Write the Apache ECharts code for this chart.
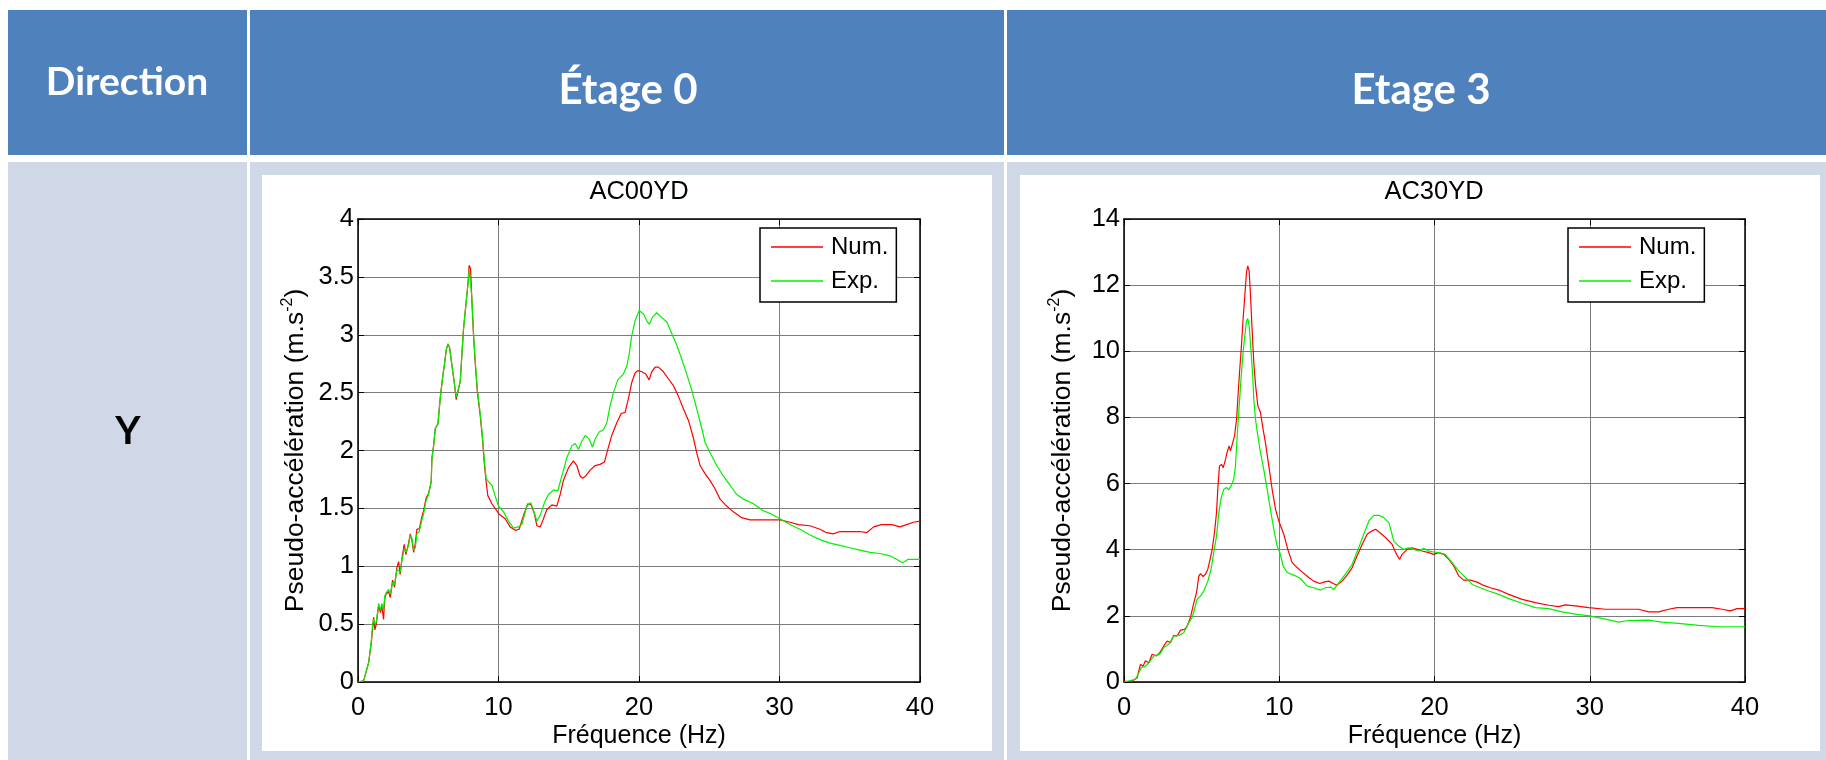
<!DOCTYPE html>
<html>
<head>
<meta charset="utf-8">
<title>AC00YD / AC30YD</title>
<script src="https://cdn.jsdelivr.net/npm/echarts@6.0.0/dist/echarts.min.js"></script>
<style>
  html, body { margin: 0; padding: 0; background: #fff; }
  #chart { width: 1826px; height: 760px; }
</style>
</head>
<body>
<div id="chart"></div>
<script>
// header texts of the table
const headerLabels = ['Direction', 'Étage 0', 'Etage 3'];
const rowLabel = 'Y';
const chartTitles = ['AC00YD', 'AC30YD'];
const seriesNames = ['Num.', 'Exp.'];

// ticks
const xTicks = { min: 0, max: 40, interval: 10 };
const yTicksLeft = { min: 0, max: 4, interval: 0.5 };
const yTicksRight = { min: 0, max: 14, interval: 2 };

// Étage 0 - [fréquence Hz, pseudo-accélération]
const ac00Num = [[0,0],[0.4,0.01],[0.76,0.17],[0.95,0.34],[1.04,0.46],[1.11,0.56],[1.2,0.45],[1.3,0.5],[1.47,0.66],[1.6,0.6],[1.7,0.66],[1.82,0.54],[1.9,0.72],[2.0,0.76],[2.18,0.78],[2.3,0.73],[2.46,0.88],[2.6,0.82],[2.77,0.99],[2.89,1.04],[3.0,0.93],[3.13,1.07],[3.29,1.19],[3.41,1.1],[3.6,1.2],[3.72,1.28],[3.84,1.22],[3.96,1.12],[4.08,1.2],[4.19,1.32],[4.36,1.32],[4.55,1.43],[4.67,1.48],[4.83,1.58],[5.02,1.63],[5.21,1.73],[5.26,1.93],[5.38,2.04],[5.5,2.19],[5.69,2.23],[5.85,2.45],[6.02,2.63],[6.16,2.75],[6.28,2.87],[6.4,2.92],[6.52,2.89],[6.68,2.74],[6.85,2.59],[6.99,2.44],[7.11,2.44],[7.28,2.6],[7.39,2.82],[7.51,3.05],[7.68,3.26],[7.82,3.43],[7.91,3.6],[8.01,3.57],[8.1,3.31],[8.22,3.0],[8.34,2.76],[8.5,2.5],[8.7,2.3],[8.86,2.1],[9.0,1.87],[9.12,1.73],[9.24,1.61],[9.53,1.54],[9.76,1.5],[10.05,1.45],[10.48,1.41],[10.83,1.34],[11.19,1.31],[11.47,1.32],[11.78,1.44],[12.09,1.54],[12.33,1.53],[12.56,1.45],[12.73,1.35],[12.97,1.34],[13.2,1.41],[13.44,1.49],[13.8,1.53],[14.15,1.52],[14.39,1.62],[14.62,1.74],[14.98,1.85],[15.33,1.91],[15.57,1.87],[15.81,1.78],[15.98,1.76],[16.21,1.78],[16.52,1.83],[16.88,1.87],[17.23,1.88],[17.54,1.9],[17.78,2.01],[18.06,2.13],[18.42,2.24],[18.73,2.32],[19.01,2.33],[19.25,2.45],[19.49,2.59],[19.72,2.67],[19.92,2.69],[20.2,2.68],[20.48,2.66],[20.72,2.61],[20.91,2.68],[21.14,2.72],[21.38,2.72],[21.74,2.68],[22.09,2.62],[22.45,2.56],[22.8,2.47],[23.16,2.36],[23.52,2.26],[23.87,2.11],[24.11,1.98],[24.35,1.87],[24.7,1.8],[25.06,1.74],[25.41,1.67],[25.77,1.58],[26.24,1.52],[26.72,1.47],[27.31,1.42],[27.9,1.4],[28.6,1.4],[29.33,1.4],[30.03,1.4],[30.75,1.38],[31.34,1.36],[32.17,1.35],[32.88,1.32],[33.35,1.29],[33.83,1.28],[34.3,1.3],[35.0,1.3],[35.7,1.3],[36.2,1.29],[36.7,1.34],[37.26,1.36],[37.98,1.36],[38.57,1.34],[39.05,1.36],[39.52,1.38],[40,1.39]];
const ac00Exp = [[0,0],[0.4,0.01],[0.76,0.17],[0.95,0.36],[1.04,0.5],[1.11,0.54],[1.2,0.5],[1.3,0.52],[1.47,0.68],[1.6,0.62],[1.7,0.68],[1.82,0.62],[1.9,0.74],[2.0,0.77],[2.18,0.8],[2.3,0.76],[2.46,0.86],[2.6,0.84],[2.77,0.97],[2.89,0.98],[3.0,0.95],[3.13,1.05],[3.29,1.15],[3.41,1.12],[3.6,1.18],[3.72,1.27],[3.84,1.24],[3.96,1.14],[4.08,1.16],[4.19,1.28],[4.36,1.3],[4.55,1.4],[4.67,1.45],[4.83,1.56],[5.02,1.62],[5.21,1.73],[5.26,1.93],[5.38,2.04],[5.5,2.19],[5.69,2.23],[5.85,2.45],[6.02,2.63],[6.16,2.75],[6.28,2.87],[6.4,2.92],[6.52,2.89],[6.68,2.74],[6.85,2.59],[6.99,2.46],[7.11,2.46],[7.28,2.6],[7.39,2.82],[7.51,3.05],[7.68,3.26],[7.82,3.43],[7.91,3.56],[8.01,3.55],[8.1,3.33],[8.22,3.02],[8.34,2.78],[8.5,2.52],[8.7,2.32],[8.86,2.12],[9.0,1.9],[9.12,1.76],[9.29,1.73],[9.53,1.7],[9.76,1.61],[10.0,1.52],[10.36,1.47],[10.71,1.39],[11.07,1.33],[11.42,1.34],[11.66,1.36],[12.02,1.52],[12.3,1.55],[12.56,1.46],[12.73,1.39],[12.97,1.44],[13.27,1.55],[13.56,1.62],[13.92,1.66],[14.22,1.65],[14.51,1.78],[14.87,1.94],[15.22,2.04],[15.46,2.06],[15.7,2.01],[15.93,2.08],[16.17,2.13],[16.45,2.1],[16.69,2.03],[16.88,2.1],[17.16,2.16],[17.47,2.18],[17.71,2.24],[17.95,2.39],[18.18,2.5],[18.49,2.61],[18.89,2.66],[19.13,2.73],[19.3,2.83],[19.48,2.99],[19.72,3.12],[20.01,3.21],[20.32,3.18],[20.55,3.12],[20.74,3.09],[20.95,3.15],[21.26,3.19],[21.62,3.15],[21.98,3.11],[22.33,3.01],[22.69,2.91],[23.04,2.79],[23.4,2.66],[23.76,2.52],[24.11,2.36],[24.47,2.19],[24.7,2.07],[25.06,1.98],[25.53,1.87],[26.0,1.78],[26.48,1.7],[26.95,1.62],[27.43,1.58],[28.14,1.54],[28.85,1.48],[29.44,1.45],[30.03,1.41],[30.75,1.36],[31.46,1.32],[32.17,1.27],[32.88,1.23],[33.59,1.2],[34.3,1.18],[35.0,1.16],[35.73,1.14],[36.44,1.12],[37.15,1.11],[37.86,1.09],[38.33,1.06],[38.76,1.03],[39.16,1.06],[40,1.06]];

// Etage 3
const ac30Num = [[0,0.03],[0.42,0],[0.85,0.13],[1.06,0.53],[1.23,0.48],[1.38,0.64],[1.6,0.58],[1.81,0.84],[2.09,0.79],[2.31,0.89],[2.56,1.09],[2.78,1.24],[2.99,1.19],[3.21,1.41],[3.42,1.39],[3.64,1.57],[3.9,1.59],[4.07,1.69],[4.28,1.95],[4.45,2.3],[4.67,2.7],[4.82,3.21],[4.93,3.28],[5.1,3.19],[5.25,3.26],[5.4,3.41],[5.57,3.76],[5.68,4.01],[5.83,4.52],[5.96,5.12],[6.04,5.83],[6.15,6.53],[6.28,6.58],[6.39,6.48],[6.54,6.73],[6.64,6.94],[6.77,7.14],[6.86,6.99],[6.97,6.94],[7.12,7.44],[7.25,7.94],[7.33,8.55],[7.44,9.35],[7.55,10.06],[7.67,10.97],[7.78,11.67],[7.89,12.38],[7.97,12.58],[8.06,12.43],[8.14,11.77],[8.25,10.67],[8.36,9.66],[8.47,9.0],[8.62,8.35],[8.79,8.15],[8.96,7.64],[9.11,7.24],[9.33,6.53],[9.54,5.83],[9.76,5.22],[9.97,4.87],[10.29,4.47],[10.55,4.01],[10.83,3.61],[11.15,3.46],[11.47,3.33],[11.9,3.16],[12.22,3.05],[12.61,2.98],[12.87,3.02],[13.19,3.05],[13.47,2.98],[13.72,2.93],[14.05,3.05],[14.37,3.23],[14.7,3.46],[15.01,3.81],[15.34,4.16],[15.66,4.47],[15.98,4.57],[16.2,4.62],[16.47,4.52],[16.84,4.37],[17.27,4.16],[17.55,3.86],[17.76,3.71],[17.91,3.86],[18.24,4.01],[18.56,4.06],[18.88,4.01],[19.2,3.96],[19.63,3.91],[19.95,3.86],[20.27,3.91],[20.59,3.86],[20.92,3.71],[21.24,3.51],[21.56,3.21],[21.88,3.08],[22.31,3.08],[22.74,3.02],[23.17,2.92],[23.6,2.85],[24.14,2.78],[24.78,2.65],[25.64,2.5],[26.5,2.4],[27.36,2.32],[28.0,2.28],[28.43,2.33],[29.08,2.3],[29.93,2.25],[31.0,2.2],[32.07,2.2],[33.15,2.2],[33.79,2.12],[34.44,2.12],[35.08,2.2],[35.62,2.25],[36.8,2.25],[37.88,2.25],[38.52,2.2],[39.05,2.15],[39.48,2.22],[40,2.22]];
const ac30Exp = [[0,0],[0.74,0.08],[0.96,0.28],[1.11,0.43],[1.38,0.48],[1.6,0.58],[1.92,0.79],[2.31,0.84],[2.56,1.04],[2.89,1.14],[3.21,1.39],[3.53,1.41],[3.85,1.49],[4.17,1.79],[4.39,1.95],[4.54,2.2],[4.71,2.5],[4.93,2.6],[5.14,2.75],[5.4,3.05],[5.61,3.41],[5.78,3.91],[5.96,4.42],[6.11,5.12],[6.26,5.57],[6.43,5.83],[6.6,5.88],[6.75,5.81],[6.9,5.93],[7.07,6.13],[7.18,6.53],[7.29,7.44],[7.42,8.35],[7.55,9.25],[7.67,9.96],[7.78,10.46],[7.89,10.92],[7.97,10.99],[8.06,10.77],[8.19,9.96],[8.3,9.15],[8.36,8.55],[8.47,7.94],[8.62,7.44],[8.79,6.94],[9.0,6.43],[9.22,5.83],[9.43,5.22],[9.65,4.62],[9.86,4.11],[10.04,3.91],[10.25,3.51],[10.51,3.31],[11.04,3.21],[11.36,3.13],[11.8,2.9],[12.22,2.85],[12.65,2.78],[12.97,2.85],[13.3,2.87],[13.52,2.8],[13.83,3.0],[14.26,3.26],[14.7,3.56],[15.12,4.06],[15.44,4.47],[15.77,4.87],[16.09,5.04],[16.41,5.04],[16.73,4.97],[17.06,4.82],[17.38,4.26],[17.7,4.11],[18.02,4.01],[18.34,4.06],[18.66,4.01],[18.99,3.96],[19.31,4.04],[19.63,3.96],[19.95,3.93],[20.27,3.91],[20.7,3.86],[21.13,3.61],[21.56,3.36],[21.99,3.16],[22.42,2.95],[22.95,2.85],[23.49,2.75],[24.14,2.65],[24.78,2.52],[25.64,2.38],[26.5,2.25],[27.36,2.22],[28.22,2.12],[29.08,2.05],[30.0,2.0],[31.0,1.9],[31.86,1.81],[32.5,1.86],[33.79,1.87],[34.65,1.81],[35.72,1.77],[37.01,1.71],[38.3,1.67],[40,1.67]];

const numColor = '#ff0000';
const expColor = '#00f000';
const headBlue = '#4f81bd';
const bodyBlue = '#d0d8e8';
const font = '"Liberation Sans", Arial, sans-serif';
const headFont = 'Lato, "Open Sans", sans-serif';

const chart = echarts.init(document.getElementById('chart'));

// plot areas (MATLAB figures)
const grids = [
   { left: 358, top: 219, width: 562, height: 463 },
   { left: 1124, top: 219, width: 621, height: 463 }
];

const gridLine = { color: '#7c7c7c', width: 1, type: 'solid' };

function bottomAxis(gi, showLabel) {
   return {
      type: 'value', gridIndex: gi, position: showLabel ? 'bottom' : 'top',
      min: xTicks.min, max: xTicks.max, interval: xTicks.interval,
      name: showLabel ? 'Fréquence (Hz)' : '', nameLocation: 'middle', nameGap: 42,
      nameMoveOverlap: false,
      nameTextStyle: { fontSize: 25, color: '#000', fontFamily: font },
      axisLine: { show: true, onZero: false, lineStyle: { color: '#000', width: 1.5 } },
      axisTick: { show: true, inside: true, length: 6, lineStyle: { color: '#000', width: 1 } },
      axisLabel: { show: showLabel, margin: 13, fontSize: 25.5, color: '#000', fontFamily: font },
      splitLine: { show: showLabel, lineStyle: gridLine }
   };
}

function sideAxis(gi, ticks, showLabel, gap) {
   return {
      type: 'value', gridIndex: gi, position: showLabel ? 'left' : 'right',
      min: ticks.min, max: ticks.max, interval: ticks.interval,
      name: showLabel ? '{a|Pseudo-accélération (m.s}{s|-2}{a|)}' : '',
      nameLocation: 'middle', nameGap: gap, nameMoveOverlap: false,
      nameTextStyle: {
         color: '#000',
         rich: {
            a: { fontSize: 26.5, lineHeight: 32, fontFamily: font, color: '#000' },
            s: { fontSize: 16, lineHeight: 17, verticalAlign: 'top', fontFamily: font, color: '#000' }
         }
      },
      axisLine: { show: true, onZero: false, lineStyle: { color: '#000', width: 1.5 } },
      axisTick: { show: true, inside: true, length: 6, lineStyle: { color: '#000', width: 1 } },
      axisLabel: { show: showLabel, margin: 4, fontSize: 25.5, color: '#000', fontFamily: font },
      splitLine: { show: showLabel, lineStyle: gridLine }
   };
}

function lineSeries(name, data, color, gi) {
   return {
      name: name, type: 'line', xAxisIndex: gi * 2, yAxisIndex: gi * 2,
      data: data, symbol: 'none', smooth: false, clip: true,
      lineStyle: { color: color, width: 1.2 },
      itemStyle: { color: color },
      emphasis: { disabled: true }
   };
}

function legendAt(left) {
   return {
      data: seriesNames, left: left, top: 228, orient: 'vertical',
      icon: 'rect', itemWidth: 52, itemHeight: 1.5, itemGap: 10,
      padding: [7, 8, 9, 11],
      backgroundColor: '#fff', borderColor: '#000', borderWidth: 1.5, borderRadius: 0,
      selectedMode: false,
      textStyle: { fontSize: 24, color: '#000', fontFamily: font, padding: [0, 0, 0, 3] }
   };
}

// table cells drawn behind the charts
const tableCells = [
   { x: 8, y: 10, w: 239, h: 145, c: headBlue },
   { x: 250, y: 10, w: 754, h: 145, c: headBlue },
   { x: 1007, y: 10, w: 819, h: 145, c: headBlue },
   { x: 8, y: 162, w: 239, h: 598, c: bodyBlue },
   { x: 250, y: 162, w: 754, h: 598, c: bodyBlue },
   { x: 1007, y: 162, w: 819, h: 598, c: bodyBlue },
   { x: 262, y: 175, w: 730, h: 576, c: '#fff' },
   { x: 1020, y: 175, w: 800, h: 576, c: '#fff' }
];

const graphics = tableCells.map(function (r) {
   return { type: 'rect', z: 0, silent: true, shape: { x: r.x, y: r.y, width: r.w, height: r.h }, style: { fill: r.c } };
});
const headPos = [[127, 82, 39], [628, 90, 42], [1421, 90, 42]];
headerLabels.forEach(function (t, i) {
   graphics.push({
      type: 'text', z: 1, silent: true, x: headPos[i][0], y: headPos[i][1],
      style: { text: t, fill: '#fff', fontSize: headPos[i][2], fontWeight: 'bold', fontFamily: headFont, align: 'center', verticalAlign: 'middle' }
   });
});
graphics.push({
   type: 'text', z: 1, silent: true, x: 128, y: 431,
   style: { text: rowLabel, fill: '#000', fontSize: 39, fontWeight: 'bold', fontFamily: headFont, align: 'center', verticalAlign: 'middle' }
});

const option = {
   animation: false,
   backgroundColor: '#fff',
   graphic: { elements: graphics },
   title: [
      { text: chartTitles[0], left: 639, top: 179, textAlign: 'center', padding: 0,
        textStyle: { fontSize: 25.5, fontWeight: 'normal', color: '#000', fontFamily: font } },
      { text: chartTitles[1], left: 1434, top: 179, textAlign: 'center', padding: 0,
        textStyle: { fontSize: 25.5, fontWeight: 'normal', color: '#000', fontFamily: font } }
   ],
   legend: [legendAt(760), legendAt(1568)],
   grid: grids.map(function (g) {
      return Object.assign({ show: false, containLabel: false, outerBoundsMode: 'none' }, g);
   }),
   xAxis: [bottomAxis(0, true), bottomAxis(0, false), bottomAxis(1, true), bottomAxis(1, false)],
   yAxis: [sideAxis(0, yTicksLeft, true, 46), sideAxis(0, yTicksLeft, false, 0),
           sideAxis(1, yTicksRight, true, 45), sideAxis(1, yTicksRight, false, 0)],
   series: [
      lineSeries(seriesNames[0], ac00Num, numColor, 0),
      lineSeries(seriesNames[1], ac00Exp, expColor, 0),
      lineSeries(seriesNames[0], ac30Num, numColor, 1),
      lineSeries(seriesNames[1], ac30Exp, expColor, 1)
   ]
};
chart.setOption(option);
</script>
</body>
</html>
